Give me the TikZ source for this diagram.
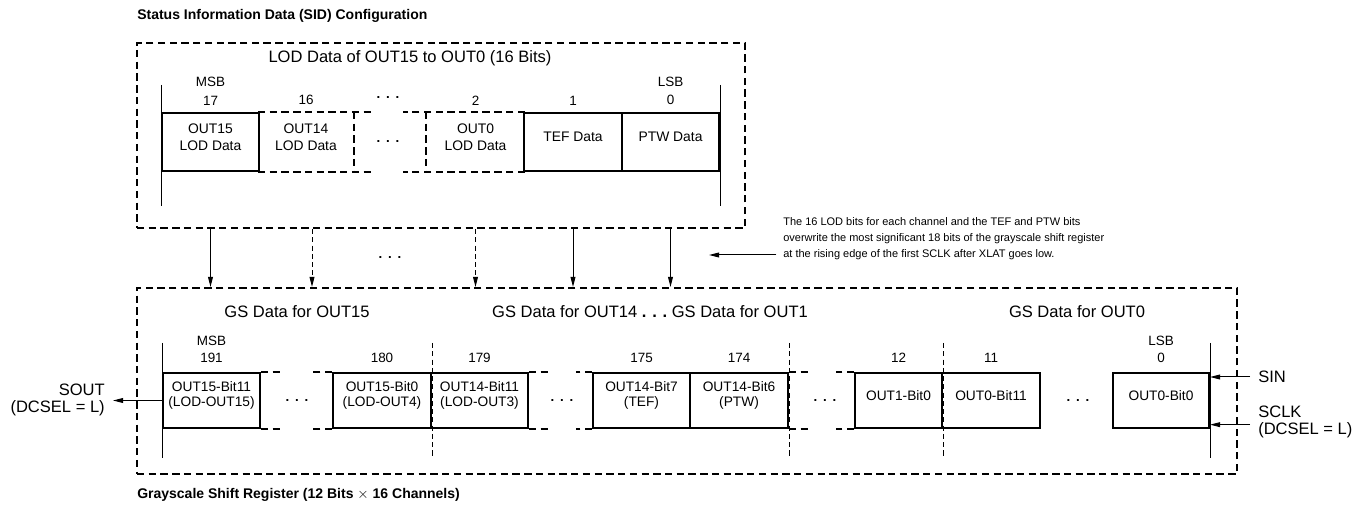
\documentclass[tikz,border=0pt]{standalone}
\usepackage{fontspec}
\setmainfont{Liberation Sans}
\usetikzlibrary{arrows.meta,fit,positioning}
% three spaced dots used in the gaps of the registers
\newcommand{\gapdots}{\textbf{.\hspace{4.3pt}.\hspace{4.3pt}.}}

\begin{document}
\begin{tikzpicture}[x=0.75pt,y=-0.75pt,
  frame/.style={draw,line width=1.5pt,dash pattern=on 5.5pt off 3.3pt,inner sep=0pt},
  cell/.style={draw,line width=1.5pt,inner sep=0pt,align=center,font=\fontsize{10.4}{12.4}\selectfont},
  ghost/.style={cell,draw=none},
  lowcell/.style={font=\fontsize{10.3}{11}\selectfont},
  dline/.style={line width=1.5pt,dash pattern=on 5.5pt off 3.3pt},
  tick/.style={line width=0.7pt},
  dtick/.style={tick,dash pattern=on 3.8pt off 2.4pt},
  lbl/.style={inner sep=0pt,font=\fontsize{10.1}{12}\selectfont},
  head/.style={inner sep=0pt,font=\fontsize{12.4}{12.6}\selectfont},
  title/.style={inner sep=0pt,anchor=west,font=\bfseries\fontsize{10.5}{12}\selectfont},
  note/.style={inner sep=0pt,anchor=west,align=left,font=\fontsize{8.25}{11.9}\selectfont},
  arr/.style={line width=0.75pt,-{Triangle[length=7.5pt,width=3.6pt]}},
  darr/.style={arr,dash pattern=on 3.8pt off 2.4pt},
]
\useasboundingbox (0,0) rectangle (1355,505);

% titles
\node[title] (sidtitle) at (137,16) {Status Information Data (SID) Configuration};
\node[title] (gstitle) at (137,495) {Grayscale Shift Register (12 Bits $\times$ 16 Channels)};

% SID data
\node[frame,fit={(137,43) (745,228)}] (sid) {};
\node[head] (sidhead) at (410,58) {LOD Data of OUT15 to OUT0 (16 Bits)};
\node[cell,fit={(162,113) (259,171)}] (s17) {OUT15\\LOD Data};
\node[ghost,fit={(259,113) (353,171)}] (s16) {OUT14\\LOD Data};
\node[ghost,fit={(427,113) (524,171)}] (s2) {OUT0\\LOD Data};
\node[cell,fit={(524,113) (622,171)}] (s1) {TEF Data};
\node[cell,fit={(622,113) (719,171)}] (s0) {PTW Data};
\draw[dline] (s16.north west) -- ++(114,0);
\draw[dline] (s16.south west) -- ++(114,0);
\draw[dline] (s16.north east) -- (s16.south east);
\draw[dline] (s2.north east) -- ++(-122,0);
\draw[dline] (s2.south east) -- ++(-122,0);
\draw[dline] (s2.north west) -- (s2.south west);
\node (sdots) at (388,142) {\gapdots};
\node (sdotsn) at (388,98) {\gapdots};
\foreach \nm/\num in {s17/17,s16/16,s2/2,s1/1,s0/0}
  \node[lbl,above=5pt of \nm] (t\num) {\num};
\node[lbl,above=6.5pt of t17] (tmsb) {MSB};
\node[lbl,above=6.5pt of t0] (tlsb) {LSB};
\draw[tick] (s17.north west |- 0,85) -- (s17.south west |- 0,206);
\draw[tick] (s0.north east |- 0,85) -- (s0.south east |- 0,206);

% grayscale shift register
\node[frame,fit={(137,288) (1237,474)}] (gs) {};
\node[head] (gshead15) at (297,312) {GS Data for OUT15};
\node[head] (gshead14) at (650,312) {GS Data for OUT14 \gapdots\ GS Data for OUT1};
\node[head] (gshead0) at (1077,312) {GS Data for OUT0};
\foreach \nm/\xa/\xb/\txt in {gA/163/260/{OUT15-Bit11\\(LOD-OUT15)},
    gB/333/431/{OUT15-Bit0\\(LOD-OUT4)}, gC/431/528/{OUT14-Bit11\\(LOD-OUT3)},
    gD/593/690/{OUT14-Bit7\\(TEF)}, gE/690/788/{OUT14-Bit6\\(PTW)},
    gF/855/942/{OUT1-Bit0}, gG/942/1040/{OUT0-Bit11}, gH/1113/1209/{OUT0-Bit0}}
  \node[cell,lowcell,fit={(\xa,373) (\xb,428)}] (\nm) {\txt};
\foreach \nm/\num in {gA/191,gB/180,gC/179,gD/175,gE/174,gF/12,gG/11,gH/0}
  \node[lbl,above=7pt of \nm] (b\num) {\num};
\node[lbl,above=5.3pt of b191] (bmsb) {MSB};
\node[lbl,above=5.3pt of b0] (blsb) {LSB};
\foreach \nm/\dx in {gA/23,gC/20,gE/20}{
  \draw[dline] (\nm.north east) -- ++(\dx,0);
  \draw[dline] (\nm.south east) -- ++(\dx,0);
}
\foreach \nm/\dx in {gB/21,gD/16,gF/18}{
  \draw[dline] (\nm.north west) -- ++(-\dx,0);
  \draw[dline] (\nm.south west) -- ++(-\dx,0);
}
\foreach \x [count=\i] in {297,562,825,1078}
  \node (gdots\i) at (\x,401) {\gapdots};
\draw[tick] (gA.north west |- 0,343) -- (gA.south west |- 0,458);
\draw[tick] (gH.north east |- 0,343) -- (gH.south east |- 0,458);
\foreach \nm in {gB,gE,gF}
  \draw[dtick] (\nm.north east |- 0,343) -- (\nm.south east |- 0,458);

% transfer from SID into the shift register
\draw[arr] (s17 |- sid.south) -- (s17 |- gs.north);
\draw[darr] ([xshift=4.5pt]s16.center |- sid.south) -- ([xshift=4.5pt]s16.center |- gs.north);
\draw[darr] (s2 |- sid.south) -- (s2 |- gs.north);
\draw[arr] (s1 |- sid.south) -- (s1 |- gs.north);
\draw[arr] (s0 |- sid.south) -- (s0 |- gs.north);
\node (adots) at (390,258) {\gapdots};
\node[note] (note) at (783,238.5) {The 16 LOD bits for each channel and the TEF and PTW bits\\
  overwrite the most significant 18 bits of the grayscale shift register\\
  at the rising edge of the first SCLK after XLAT goes low.};
\coordinate (notetip) at (709,255);
\draw[arr] ([xshift=-5pt]note.west |- notetip) -- (notetip);

% serial in and out
\node[head,anchor=east,align=right] (sout) at (105,400) {SOUT\\(DCSEL = L)};
\draw[arr] (gA.west) -- ([xshift=6pt]sout.east |- gA.west);
\node[head,anchor=west] (sin) at (1258,377) {SIN};
\node[head,anchor=west,align=left] (sclk) at (1258,422) {SCLK\\(DCSEL = L)};
\draw[arr] ([xshift=-6pt]sin.west) -- (sin.west -| gH.east);
\draw[arr] ([xshift=-6pt,yshift=-2pt]sclk.west) -- ([yshift=-2pt]sclk.west -| gH.east);
\end{tikzpicture}
\end{document}
